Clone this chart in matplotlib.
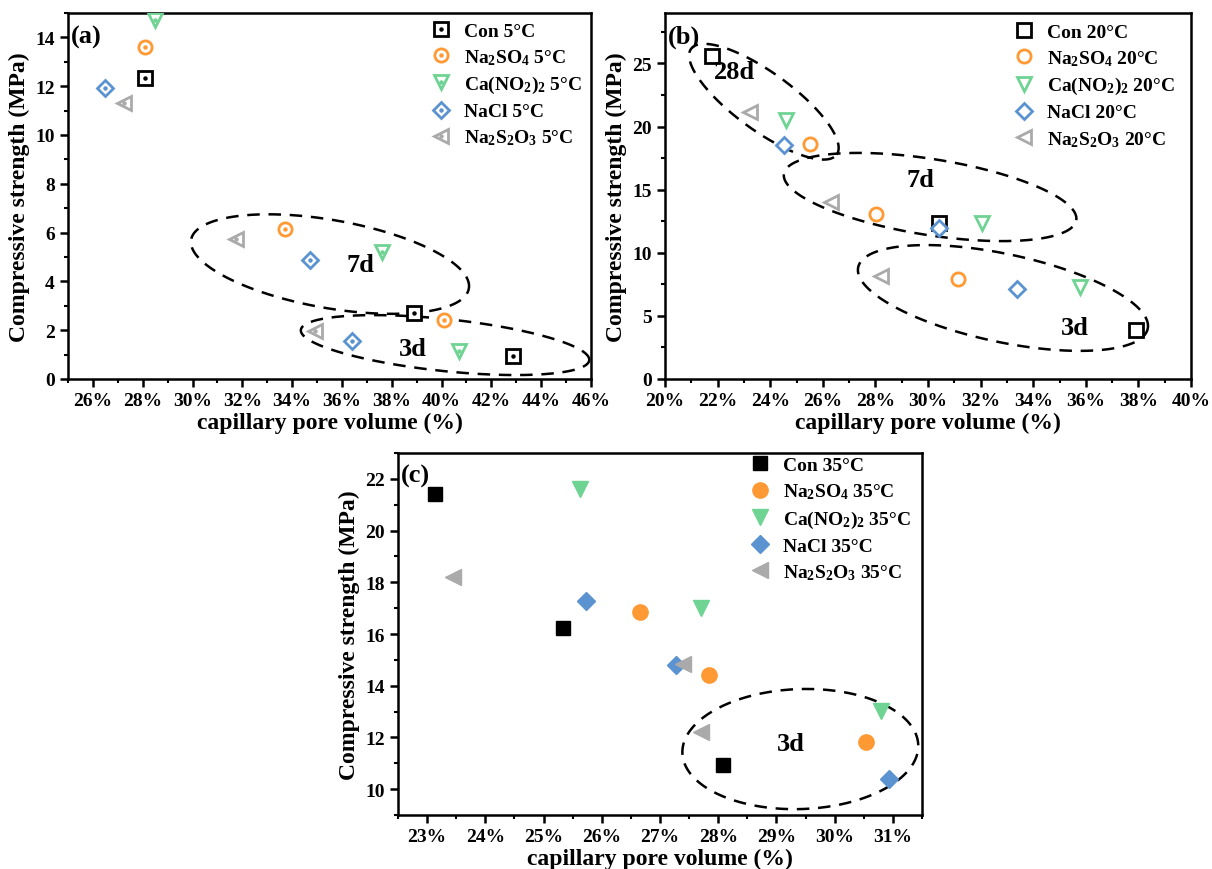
import numpy as np
import matplotlib
matplotlib.use('Agg')
import matplotlib.pyplot as plt
from matplotlib.ticker import MultipleLocator, FuncFormatter
from matplotlib.legend_handler import HandlerTuple

plt.rcParams['font.family'] = 'Liberation Serif'
plt.rcParams['font.weight'] = 'bold'
plt.rcParams['axes.labelweight'] = 'bold'
plt.rcParams['mathtext.fontset'] = 'custom'
plt.rcParams['mathtext.rm'] = 'Liberation Serif:bold'
plt.rcParams['mathtext.bf'] = 'Liberation Serif:bold'
plt.rcParams['mathtext.it'] = 'Liberation Serif:bold'
plt.rcParams['mathtext.default'] = 'bf'

salts = ['Con', 'Na$_2$SO$_4$', 'Ca(NO$_2$)$_2$', 'NaCl', 'Na$_2$S$_2$O$_3$']
colors = ['#000000', '#FF9933', '#6FD493', '#5B93D0', '#AAAAAA']
markers = ['s', 'o', 'v', 'D', '<']

# capillary pore volume (%) and compressive strength (MPa), one row per salt
pore_5 = [[28.1, 38.9, 42.85], [28.1, 33.7, 40.1], [28.5, 37.6, 40.7],
          [26.5, 34.7, 36.4], [27.25, 31.75, 34.9]]
strength_5 = [[12.35, 2.7, 0.93], [13.6, 6.13, 2.4], [14.73, 5.2, 1.14],
              [11.93, 4.86, 1.55], [11.3, 5.72, 1.96]]

pore_20 = [[21.77, 30.43, 37.9], [25.51, 28.02, 31.13], [24.6, 32.07, 35.78],
           [24.53, 30.42, 33.4], [23.23, 26.33, 28.23]]
strength_20 = [[25.56, 12.33, 3.9], [18.6, 13.04, 7.94], [20.5, 12.38, 7.3],
               [18.52, 11.98, 7.17], [21.16, 14.02, 8.15]]

pore_35 = [[23.14, 25.33, 28.08], [26.65, 27.84, 30.54], [25.63, 27.71, 30.8],
           [25.73, 27.28, 30.93], [23.44, 27.39, 27.71]]
strength_35 = [[21.43, 16.23, 10.95], [16.87, 14.43, 11.81], [21.6, 17.0, 13.04],
               [17.29, 14.8, 10.41], [18.22, 14.83, 12.2]]

hollow_size = [9.5, 9.5, 10.5, 8.5, 10.5]
filled_size = [10, 11, 12, 9.5, 12]

fig = plt.figure(figsize=(12.12, 8.7), dpi=100)
ax_a = fig.add_axes([68/1212, 1-380/870, 523/1212, 366/870])
ax_b = fig.add_axes([665/1212, 1-380/870, 526/1212, 366/870])
ax_c = fig.add_axes([398/1212, 1-816/870, 524/1212, 362/870])


def style_axis(ax, xlim, ylim, xmaj, xmin, ymaj, ymin):
    ax.set_xlim(*xlim)
    ax.set_ylim(*ylim)
    ax.xaxis.set_major_locator(MultipleLocator(xmaj))
    ax.xaxis.set_minor_locator(MultipleLocator(xmin))
    ax.yaxis.set_major_locator(MultipleLocator(ymaj))
    ax.yaxis.set_minor_locator(MultipleLocator(ymin))
    ax.xaxis.set_major_formatter(FuncFormatter(lambda v, p: f'{v:.0f}%'))
    ax.tick_params(which='major', direction='out', length=6, width=1.8, labelsize=14)
    ax.tick_params(which='minor', direction='out', length=3, width=1.5)
    for s in ax.spines.values():
        s.set_linewidth(1.8)
    ax.set_xlabel('capillary pore volume (%)', fontsize=17, labelpad=2)
    ax.set_ylabel('Compressive strength (MPa)', fontsize=17, labelpad=4)


def dashed_ellipse(ax, cx, cy, a, b, tilt):
    # a, b in pixels, tilt in degrees (positive = down to the right)
    t = np.linspace(0, 2*np.pi, 300)
    phi = np.deg2rad(-tilt)
    ex = a*np.cos(t)*np.cos(phi) - b*np.sin(t)*np.sin(phi)
    ey = a*np.cos(t)*np.sin(phi) + b*np.sin(t)*np.cos(phi)
    x0, y0 = ax.transData.transform((cx, cy))
    pts = ax.transData.inverted().transform(np.column_stack([x0+ex, y0+ey]))
    ax.plot(pts[:, 0], pts[:, 1], color='k', lw=1.8, ls=(0, (5, 3.5)),
            clip_on=False, zorder=1)


def scatter_panel(ax, pore, strength, temp, filled, dots, legend_xy):
    handles = []
    for i in range(len(salts)):
        if filled:
            h, = ax.plot(pore[i], strength[i], ls='none', marker=markers[i],
                         ms=filled_size[i], color=colors[i], mec=colors[i], zorder=3)
        else:
            h, = ax.plot(pore[i], strength[i], ls='none', marker=markers[i],
                         ms=hollow_size[i], mfc='white', mec=colors[i], mew=2.0, zorder=3)
        if dots:
            d, = ax.plot(pore[i], strength[i], ls='none', marker='o', ms=2.2,
                         color=colors[i], zorder=4)
            h = (h, d)
        handles.append(h)
    ax.legend(handles, [f'{s} {temp}°C' for s in salts], loc='upper left',
              bbox_to_anchor=legend_xy, frameon=False, fontsize=14,
              handlelength=1.0, handletextpad=0.7, labelspacing=0.38,
              borderpad=0, borderaxespad=0,
              handler_map={tuple: HandlerTuple(ndivide=1)})


# (a) 5 °C
style_axis(ax_a, (25, 46), (0, 15), 2, 1, 2, 1)
scatter_panel(ax_a, pore_5, strength_5, 5, False, True, (0.694, 0.975))
dashed_ellipse(ax_a, 35.52, 4.71, 141, 44, 10)
dashed_ellipse(ax_a, 40.14, 1.39, 145, 26, 6)
ax_a.text(36.73, 4.69, '7d', fontsize=19, ha='center', va='center')
ax_a.text(38.84, 1.27, '3d', fontsize=19, ha='center', va='center')
ax_a.text(0.005, 0.937, '(a)', transform=ax_a.transAxes, fontsize=19, va='center')

# (b) 20 °C
style_axis(ax_b, (20, 40), (0, 29), 2, 1, 5, 2.5)
scatter_panel(ax_b, pore_20, strength_20, 20, False, False, (0.6635, 0.972))
dashed_ellipse(ax_b, 23.76, 21.97, 90, 29, 36)
dashed_ellipse(ax_b, 30.08, 14.42, 148, 38, 9)
dashed_ellipse(ax_b, 32.85, 6.42, 148, 44, 12)
ax_b.text(22.64, 24.4, '28d', fontsize=19, ha='center', va='center')
ax_b.text(29.72, 15.82, '7d', fontsize=19, ha='center', va='center')
ax_b.text(35.58, 4.05, '3d', fontsize=19, ha='center', va='center')
ax_b.text(0.005, 0.937, '(b)', transform=ax_b.transAxes, fontsize=19, va='center')

# (c) 35 °C
style_axis(ax_c, (22.5, 31.5), (9, 23), 1, 0.5, 2, 1)
scatter_panel(ax_c, pore_35, strength_35, 35, True, False, (0.672, 0.99))
dashed_ellipse(ax_c, 29.41, 11.55, 118, 60, -2)
ax_c.text(29.24, 11.78, '3d', fontsize=19, ha='center', va='center')
ax_c.text(0.005, 0.937, '(c)', transform=ax_c.transAxes, fontsize=19, va='center')

fig.savefig('out.png', dpi=100)
